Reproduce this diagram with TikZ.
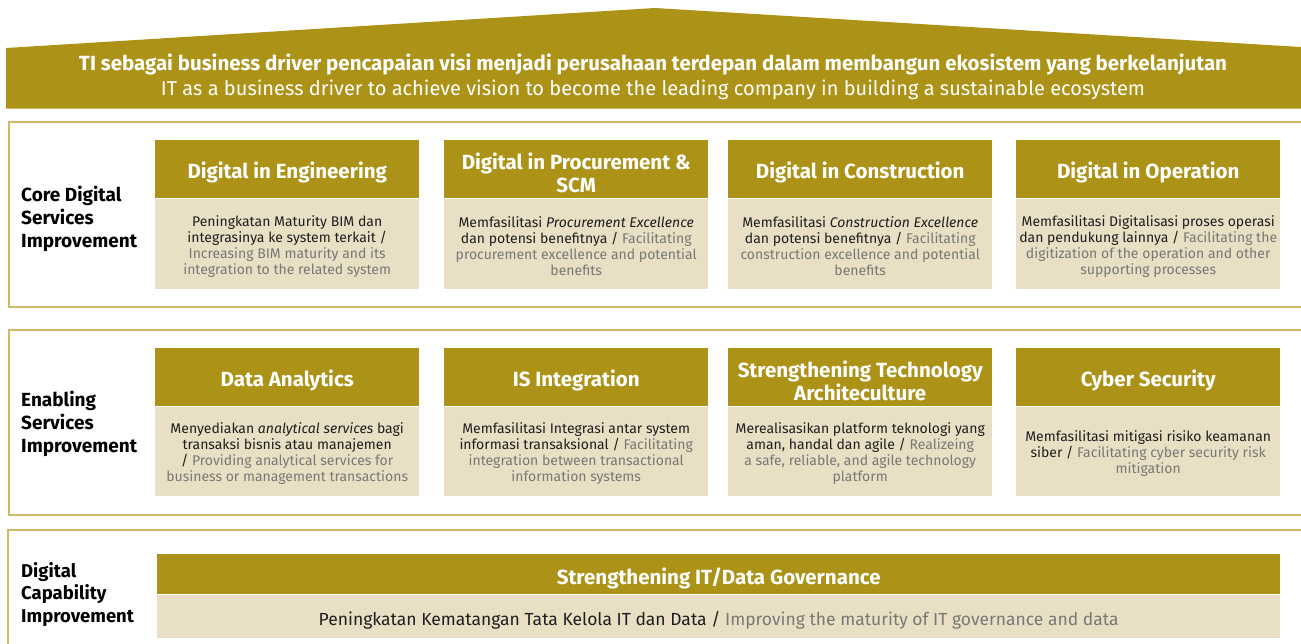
\documentclass[tikz,border=0pt]{standalone}
\usepackage{fontspec}
\setmainfont{Fira Sans}
\definecolor{gold}{RGB}{172,146,22}
\definecolor{goldline}{RGB}{205,186,100}
\definecolor{beige}{RGB}{232,223,196}
\definecolor{dark}{RGB}{30,30,30}
\definecolor{greytxt}{RGB}{120,120,118}
\tikzset{
  hdrbox/.style={fill=gold, anchor=north west, inner sep=0pt, minimum width=264pt, minimum height=58pt},
  hdrtxt/.style={text=white, inner sep=0pt, align=center, font=\fontsize{20.5}{23}\selectfont\bfseries},
  bdybox/.style={fill=beige, anchor=north west, inner sep=0pt, minimum width=264pt},
  bdytxt/.style={text=dark, inner sep=0pt, align=center, font=\fontsize{14}{16}\selectfont},
  lbl/.style={anchor=west, inner sep=0pt, align=left, text=black, font=\fontsize{19}{23}\selectfont\bfseries},
  frame/.style={draw=goldline, line width=2pt},
}
\newcommand{\gt}[1]{\textcolor{greytxt}{#1}}
% name, x, y, body height, header, body
\newcommand{\card}[6]{%
  \node[hdrbox] (#1h) at (#2,#3) {};
  \node[hdrtxt] (#1ht) at ([yshift=-3.5pt]#1h.center) {#5};
  \node[bdybox, minimum height=#4pt] (#1b) at (#1h.south west) {};
  \node[bdytxt] (#1bt) at ([yshift=-2.5pt]#1b.center) {#6};
}
\begin{document}
\begin{tikzpicture}[x=1pt,y=-1pt]
\useasboundingbox (0,0) rectangle (1301,643);
% roof
\fill[gold] (6,48) -- (655,8) -- (1301,47) -- (1301,108) -- (6,108) -- cycle;
\draw[goldline, line width=1pt] (6,108) -- (1301,108);
\node[text=white, align=center, font=\fontsize{20}{25}\selectfont] (title) at (653,77)
  {{\fontsize{20.5}{25}\selectfont\bfseries TI sebagai business driver pencapaian visi menjadi perusahaan terdepan dalam membangun ekosistem yang berkelanjutan}\\
   IT as a business driver to achieve vision to become the leading company in building a sustainable ecosystem};
% frames
\draw[frame] (1302,122) -- (9,122) -- (9,307) -- (1302,307);
\draw[frame] (1302,330) -- (9,330) -- (9,515) -- (1302,515);
\draw[frame] (1302,530) -- (8,530) -- (8,645);
% labels
\node[lbl] (l1) at (21,219) {Core Digital\\Services\\Improvement};
\node[lbl] (l2) at (21,424) {Enabling\\Services\\Improvement};
\node[lbl, font=\fontsize{18.5}{22.5}\selectfont\bfseries] (l3) at (21,594.5) {Digital\\Capability\\Improvement};
% row 1
\card{c1}{155}{140}{90}{Digital in Engineering}{Peningkatan Maturity BIM dan\\integrasinya ke system terkait /\\\gt{Increasing BIM maturity and its}\\\gt{integration to the related system}}
\card{c2}{444}{140}{90}{Digital in Procurement \&\\SCM}{Memfasilitasi \textit{Procurement Excellence}\\dan potensi benefitnya / \gt{Facilitating}\\\gt{procurement excellence and potential}\\\gt{benefits}}
\card{c3}{728}{140}{90}{Digital in Construction}{Memfasilitasi \textit{Construction Excellence}\\dan potensi benefitnya / \gt{Facilitating}\\\gt{construction excellence and potential}\\\gt{benefits}}
\card{c4}{1016}{140}{90}{Digital in Operation}{Memfasilitasi Digitalisasi proses operasi\\dan pendukung lainnya / \gt{Facilitating the}\\\gt{digitization of the operation and other}\\\gt{supporting processes}}
% row 2
\card{c5}{155}{348}{89}{Data Analytics}{Menyediakan \textit{analytical services} bagi\\transaksi bisnis atau manajemen\\/ \gt{Providing analytical services for}\\\gt{business or management transactions}}
\card{c6}{444}{348}{89}{IS Integration}{Memfasilitasi Integrasi antar system\\informasi transaksional / \gt{Facilitating}\\\gt{integration between transactional}\\\gt{information systems}}
\card{c7}{728}{348}{89}{Strengthening Technology\\Architeculture}{Merealisasikan platform teknologi yang\\aman, handal dan agile / \gt{Realizeing}\\\gt{a safe, reliable, and agile technology}\\\gt{platform}}
\card{c8}{1016}{348}{89}{Cyber Security}{Memfasilitasi mitigasi risiko keamanan\\siber / \gt{Facilitating cyber security risk}\\\gt{mitigation}}
% row 3
\node[hdrbox, minimum width=1123pt, minimum height=40pt] (c9h) at (157,554) {};
\node[hdrtxt] (c9ht) at ([yshift=-4pt]c9h.center) {Strengthening IT/Data Governance};
\node[bdybox, minimum width=1123pt, minimum height=43pt] (c9b) at (c9h.south west) {};
\node[bdytxt, font=\fontsize{17.5}{19}\selectfont] (c9bt) at ([yshift=-4.5pt]c9b.center) {Peningkatan Kematangan Tata Kelola IT dan Data / \gt{Improving the maturity of IT governance and data}};
\end{tikzpicture}
\end{document}
